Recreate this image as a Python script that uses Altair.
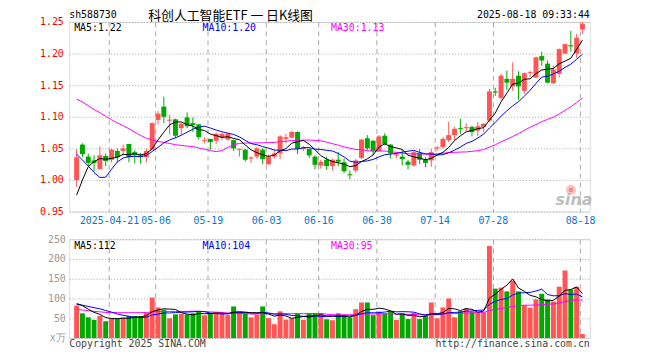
import json
import altair as alt
import numpy as np
import pandas as pd

# ---------------- data ----------------
tick_idx = [6, 14, 23, 33, 42, 52, 62, 72, 87]
tick_labels = ["2025-04-21", "05-06", "05-19", "06-03", "06-16", "06-30", "07-14", "07-28", "08-18"]

opens = [1.000, 1.056, 1.037, 1.031, 1.017, 1.038, 1.032, 1.046, 1.046, 1.057,
         1.044, 1.039, 1.036, 1.048, 1.095, 1.116, 1.094, 1.096, 1.082, 1.099,
         1.090, 1.088, 1.062, 1.065, 1.062, 1.067, 1.064, 1.063, 1.048, 1.048,
         1.034, 1.037, 1.048, 1.025, 1.037, 1.042, 1.065, 1.067, 1.076, 1.049,
         1.049, 1.037, 1.023, 1.032, 1.022, 1.032, 1.028, 1.009, 1.015, 1.035,
         1.066, 1.062, 1.046, 1.070, 1.056, 1.039, 1.037, 1.029, 1.023, 1.043,
         1.032, 1.031, 1.050, 1.052, 1.063, 1.071, 1.082, 1.082, 1.084, 1.078,
         1.084, 1.094, 1.140, 1.130, 1.160, 1.148, 1.165, 1.141, 1.169, 1.162,
         1.196, 1.184, 1.153, 1.168, 1.200, 1.213, 1.200, 1.238]
highs = [1.049, 1.058, 1.042, 1.039, 1.053, 1.042, 1.050, 1.050, 1.056, 1.057,
         1.047, 1.043, 1.050, 1.091, 1.109, 1.132, 1.103, 1.097, 1.091, 1.107,
         1.099, 1.089, 1.067, 1.065, 1.075, 1.075, 1.075, 1.064, 1.049, 1.049,
         1.038, 1.052, 1.050, 1.040, 1.047, 1.071, 1.073, 1.078, 1.077, 1.054,
         1.050, 1.039, 1.032, 1.037, 1.034, 1.044, 1.034, 1.015, 1.033, 1.065,
         1.071, 1.063, 1.071, 1.074, 1.057, 1.045, 1.047, 1.032, 1.046, 1.049,
         1.036, 1.049, 1.054, 1.068, 1.092, 1.084, 1.097, 1.090, 1.086, 1.092,
         1.090, 1.144, 1.146, 1.168, 1.173, 1.186, 1.172, 1.170, 1.173, 1.195,
         1.203, 1.189, 1.181, 1.208, 1.216, 1.236, 1.231, 1.250]
lows = [0.989, 1.036, 1.022, 1.013, 1.017, 1.022, 1.028, 1.028, 1.039, 1.028,
        1.026, 1.026, 1.028, 1.047, 1.088, 1.090, 1.072, 1.066, 1.072, 1.082,
        1.076, 1.064, 1.058, 1.048, 1.057, 1.063, 1.062, 1.046, 1.037, 1.029,
        1.027, 1.034, 1.025, 1.024, 1.034, 1.033, 1.058, 1.066, 1.041, 1.046,
        1.035, 1.017, 1.018, 1.016, 1.015, 1.022, 1.011, 1.001, 1.012, 1.033,
        1.047, 1.039, 1.045, 1.055, 1.034, 1.034, 1.023, 1.017, 1.021, 1.025,
        1.020, 1.021, 1.046, 1.050, 1.060, 1.063, 1.073, 1.077, 1.069, 1.069,
        1.076, 1.092, 1.133, 1.127, 1.142, 1.141, 1.127, 1.136, 1.163, 1.161,
        1.181, 1.153, 1.152, 1.162, 1.199, 1.203, 1.193, 1.231]
closes = [1.036, 1.041, 1.027, 1.027, 1.039, 1.030, 1.048, 1.036, 1.050, 1.036,
          1.039, 1.037, 1.046, 1.090, 1.105, 1.100, 1.095, 1.070, 1.089, 1.085,
          1.087, 1.068, 1.063, 1.060, 1.073, 1.073, 1.073, 1.050, 1.049, 1.032,
          1.035, 1.050, 1.033, 1.037, 1.042, 1.069, 1.067, 1.076, 1.049, 1.052,
          1.039, 1.024, 1.029, 1.022, 1.032, 1.029, 1.014, 1.008, 1.031, 1.064,
          1.050, 1.046, 1.069, 1.057, 1.042, 1.040, 1.033, 1.024, 1.044, 1.032,
          1.027, 1.044, 1.051, 1.065, 1.071, 1.081, 1.081, 1.083, 1.076, 1.085,
          1.089, 1.140, 1.139, 1.165, 1.154, 1.160, 1.148, 1.169, 1.170, 1.194,
          1.189, 1.154, 1.175, 1.207, 1.215, 1.212, 1.225, 1.247]
volumes = [82, 62.5, 52.5, 46, 56, 42.5, 50, 50, 52, 56,
           56, 55, 64, 102.5, 77.5, 72, 50, 60, 61, 60,
           62.5, 67, 57.5, 63, 66, 61, 58, 80, 67, 62.5,
           52.5, 59, 80, 50, 35, 67.5, 46.7, 50, 62, 46,
           62, 62, 62.5, 47.5, 45, 62.5, 58, 52, 73, 90,
           90, 58, 67, 62.5, 67, 46, 62.5, 48, 64, 48,
           56, 90, 50, 77.5, 100, 52.5, 68, 75, 67, 65,
           65, 233, 125, 127.5, 118, 145, 118, 83, 77, 98,
           112, 98, 92.5, 130, 171, 122.5, 130, 10]

# closes / volumes of the 29 sessions before the first visible candle (for the moving averages)
hist_closes = [1.18, 1.20, 1.21, 1.19, 1.20, 1.21, 1.19, 1.18, 1.184,
               1.20, 1.19, 1.18, 1.17, 1.177,
               1.15, 1.14, 1.13, 1.12, 1.12, 1.109,
               1.135, 1.123, 1.128, 1.118, 1.026, 0.921, 0.922, 0.987, 1.014]
hist_volumes = [110, 105, 95, 92, 88,
                60, 58, 55, 57, 52, 54, 56, 50, 53, 58, 62, 55, 60, 57, 48,
                80, 85, 78, 84, 85.5,
                90, 97.5, 86, 82]

price_ticks = [0.95, 1.0, 1.05, 1.1, 1.15, 1.2, 1.25]
vol_ticks = [0, 50, 100, 150, 200, 250]
price_ma_labels = ["MA5:1.22", "MA10:1.20", "MA30:1.13"]
vol_ma_labels = ["MA5:112", "MA10:104", "MA30:95"]
header_left = "sh588730"
header_title = "科创人工智能ETF 一 日K线图"
header_time = "2025-08-18 09:33:44"
footer_left = "Copyright 2025 SINA.COM"
footer_right = "http://finance.sina.com.cn"

# ---------------- derived table ----------------
n = len(closes)
all_c = pd.Series(hist_closes + closes)
all_v = pd.Series(hist_volumes + volumes)
df = pd.DataFrame({
    "pos": np.arange(n) + 0.42,
    "open": opens, "high": highs, "low": lows, "close": closes, "vol": volumes,
    "ma5": all_c.rolling(5).mean().iloc[-n:].values,
    "ma10": all_c.rolling(10).mean().iloc[-n:].values,
    "ma30": all_c.rolling(30).mean().iloc[-n:].values,
    "vma5": all_v.rolling(5).mean().iloc[-n:].values,
    "vma10": all_v.rolling(10).mean().iloc[-n:].values,
    "vma30": all_v.rolling(30).mean().iloc[-n:].values,
})
df["dir"] = np.where(df["close"] >= df["open"], "up", "down")

MONO = "DejaVu Sans Mono"
CJK = "Noto Sans CJK SC"
RED = "#ff5555"
GREEN = "#00a800"
BLUE_LBL = "#0878c8"
GRID = "#a8a8a8"
W = 527

xscale = alt.Scale(domain=[0, 87.83], nice=False, zero=False)
cscale = alt.Scale(domain=["up", "down"], range=[RED, GREEN])
label_expr = f"{json.dumps(tick_labels, ensure_ascii=False)}[indexof({json.dumps(tick_idx)}, datum.value)]"


def txt(s, x, y, color="black", align="left", size=10, font=MONO, **kw):
    return alt.Chart(pd.DataFrame({"t": [s]})).mark_text(
        align=align, baseline="middle", font=font, fontSize=size, color=color, **kw
    ).encode(x=alt.value(x), y=alt.value(y), text="t:N")


def dot(x, y, size, fill):
    return alt.Chart(pd.DataFrame({"k": [0]})).mark_point(
        shape="circle", filled=True, size=size, color=fill, opacity=1
    ).encode(x=alt.value(x), y=alt.value(y))


base = alt.Chart(df)

# ---------------- price panel ----------------
x_top = alt.X("pos:Q", scale=xscale, title=None,
              axis=alt.Axis(values=tick_idx, tickCount=len(tick_idx), labelExpr=label_expr,
                            grid=True, gridDash=[5, 4],
                            gridColor=GRID, ticks=False, tickSize=0, domain=False,
                            labelColor=BLUE_LBL, labelFont=MONO, labelFontSize=10,
                            labelPadding=4, labelFlush=6, labelAngle=0, labelOverlap=False))
y_price = alt.Y("low:Q", scale=alt.Scale(domain=[0.95, 1.25], nice=False, zero=False), title=None,
                axis=alt.Axis(values=price_ticks, tickCount=len(price_ticks), format=".2f",
                              labelOverlap=False,
                              grid=True, gridDash=[1, 2], gridColor=GRID, ticks=False, tickSize=0,
                              domain=False, labelColor="#ff0000", labelFont=MONO, labelFontSize=10,
                              labelPadding=6))
color = alt.Color("dir:N", scale=cscale, legend=None)

wick = base.mark_rule(strokeWidth=1).encode(x=x_top, y=y_price, y2="high:Q", color=color)
body = base.mark_bar(size=5).encode(x="pos:Q", y="open:Q", y2="close:Q", color=color)
doji = base.transform_filter("abs(datum.close - datum.open) < 0.003").mark_tick(
    orient="horizontal", size=5, thickness=1).encode(x="pos:Q", y="close:Q", color=color)
ma5 = base.mark_line(strokeWidth=1, color="#000000").encode(x="pos:Q", y="ma5:Q")
ma10 = base.mark_line(strokeWidth=1, color="#0000ff").encode(x="pos:Q", y="ma10:Q")
ma30 = base.mark_line(strokeWidth=1, color="#ff00ff").encode(x="pos:Q", y="ma30:Q")

top = alt.layer(
    wick, body, doji,
    dot(508, 170, 110, "#f8c8c8"),
    dot(508, 170, 25, "#ee8f8f"),
    txt("sina", 511, 180, "#bdbdbd", align="center", size=16, font="DejaVu Sans",
        fontStyle="italic", fontWeight="bold"),
    ma30, ma10, ma5,
    txt(price_ma_labels[0], 5, 6, "#000000"),
    txt(price_ma_labels[1], 135, 6, "#0000ff"),
    txt(price_ma_labels[2], 265, 6, "#ff00ff"),
    txt(header_left, 0, -7, "#000000"),
    txt(header_title, 80, -5.5, "#000000", size=13, font=CJK),
    txt(header_time, W, -7, "#000000", align="right"),
).properties(width=W, height=192)

# ---------------- volume panel ----------------
x_bot = alt.X("pos:Q", scale=xscale, title=None,
              axis=alt.Axis(values=tick_idx, tickCount=len(tick_idx), labels=False, grid=True,
                            gridDash=[5, 4], gridColor=GRID, ticks=False, tickSize=0, domain=False))
y_vol = alt.Y("vol:Q", scale=alt.Scale(domain=[0, 250], nice=False), title=None,
              axis=alt.Axis(values=vol_ticks, tickCount=len(vol_ticks), labelOverlap=False,
                            labelExpr="datum.value == 0 ? 'x万' : datum.label",
                            grid=True, gridDash=[1, 2], gridColor=GRID, ticks=False, tickSize=0,
                            domain=False, labelColor="#999999", labelFont=MONO, labelFontSize=10,
                            labelPadding=4))

vbars = base.mark_bar(size=5).encode(x=x_bot, y=y_vol, color=color)
vma5 = base.mark_line(strokeWidth=1, color="#000000").encode(x="pos:Q", y="vma5:Q")
vma10 = base.mark_line(strokeWidth=1, color="#0000ff").encode(x="pos:Q", y="vma10:Q")
vma30 = base.mark_line(strokeWidth=1, color="#ff00ff").encode(x="pos:Q", y="vma30:Q")

bottom = alt.layer(
    vbars, vma30, vma10, vma5,
    txt(vol_ma_labels[0], 5, 7, "#000000"),
    txt(vol_ma_labels[1], 135, 7, "#0000ff"),
    txt(vol_ma_labels[2], 265, 7, "#ff00ff"),
    txt(footer_left, 0, 106, "#444444"),
    txt(footer_right, W, 106, "#444444", align="right"),
).properties(width=W, height=100)

chart = alt.vconcat(top, bottom, spacing=28, bounds="flush").properties(
    autosize=alt.AutoSizeParams(type="none"),
    padding={"left": 62, "top": 12, "right": 63, "bottom": 332},
).configure_view(stroke="#999999", strokeWidth=1).configure(background="white")

chart.save("out.html", embed_options={"renderer": "svg", "actions": False})
